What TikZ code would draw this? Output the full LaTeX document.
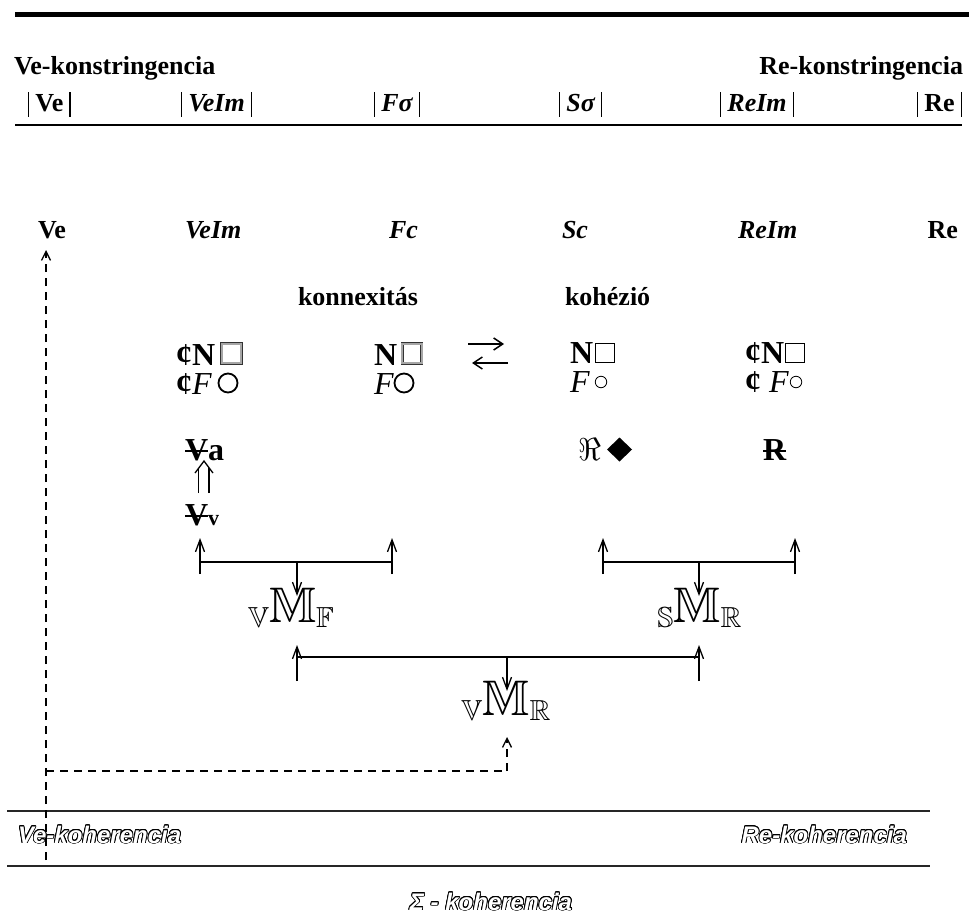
\documentclass[tikz,border=0pt]{standalone}
\usepackage{amssymb}
\usepackage{graphicx}
\usepackage{fontspec}
\setmainfont{Liberation Serif}
\newfontfamily\hollowfont{Liberation Sans}
\usetikzlibrary{arrows.meta,shapes.geometric,calc}

% a letter with a horizontal stroke through it
\newcommand\struck[1]{\setbox0\hbox{#1}\rlap{\rule[0.25em]{\wd0}{0.065em}}\box0}
% tall thin bar for the absolute-value row
\newcommand\absbar{\rule[-5pt]{1.4pt}{25pt}}
\newcommand\absval[1]{\absbar\hspace{6pt}#1\hspace{6pt}\absbar}
% double-struck M with lowered letters before and after it
\newcommand\dsM[2]{\raisebox{-5pt}{\fontsize{29}{29}\selectfont$\mathbb{#1}$}{\fontsize{50}{50}\selectfont$\mathbb{M}$}\raisebox{-5pt}{\fontsize{29}{29}\selectfont$\mathbb{#2}$}}
% hollow (outlined) text: name, position, anchor, text
\newcommand\hollowtext[4]{%
  \foreach \a in {0,22.5,...,337.5}
    \node[hollow, anchor=#3, text=black] at ($(#2)+(\a:0.8pt)$) {#4};
  \node[hollow, anchor=#3, text=white] (#1) at (#2) {#4};
}

\tikzset{
  every node/.style={inner sep=0pt, outer sep=0pt},
  big/.style={font=\fontsize{26}{30}\selectfont\bfseries},
  hdr/.style={font=\fontsize{26}{30}\selectfont\bfseries},
  colhead/.style={font=\fontsize{26}{30}\selectfont\bfseries},
  symtxt/.style={font=\fontsize{32}{36}\selectfont, anchor=base west, text height=22pt, text depth=2pt},
  heavybox/.style={rectangle, draw=black!80, double=black!35, double distance=2pt, line width=0.7pt, minimum size=19.5pt},
  heavyring/.style={circle, draw, line width=1.8pt, minimum size=19pt},
  thinbox/.style={rectangle, draw, line width=0.8pt, minimum size=19pt},
  thinring/.style={circle, draw, line width=0.8pt, minimum size=11.5pt},
  hollow/.style={font=\hollowfont\fontsize{24}{28}\selectfont\bfseries\itshape},
  bar/.style={line width=2pt},
  arr/.style={line width=1.3pt, -{Straight Barb[length=12pt,width=9pt]}},
  harr/.style={line width=1.5pt, -{Straight Barb[length=9pt,width=12pt]}},
  dsh/.style={line width=1.3pt, dash pattern=on 8pt off 6pt},
  dsharr/.style={dsh, -{Straight Barb[length=9pt,width=9pt]}},
}

\begin{document}
\begin{tikzpicture}[x=1pt,y=-1pt]
\useasboundingbox (0,0) rectangle (969,923);
\fill[white] (0,0) rectangle (969,923);

% horizontal rules
\draw[line width=5pt] (15,15) -- (969,15);
\draw[line width=1.5pt] (15,125) -- (962,125);
\draw[line width=2.5pt, black!85] (7,811) -- (930,811);
\draw[line width=2.5pt, black!85] (7,866) -- (930,866);

% constringency headings
\node[big, anchor=base west] (vek) at (14,75) {Ve-konstringencia};
\node[big, anchor=base east] (rek) at (963,75) {Re-konstringencia};

% absolute-value row
\node[hdr, anchor=base west] (h1) at (28,112) {\absval{Ve}};
\node[hdr, anchor=base west] (h2) at (181,112) {\absval{\itshape VeIm}};
\node[hdr, anchor=base west] (h3) at (374,112) {\absval{\itshape Fσ}};
\node[hdr, anchor=base west] (h4) at (559,112) {\absval{\itshape Sσ}};
\node[hdr, anchor=base west] (h5) at (720,112) {\absval{\itshape ReIm}};
\node[hdr, anchor=base east] (h6) at (962,112) {\absval{Re}};

% column heads
\node[colhead, anchor=base west] (ve) at (38,238) {Ve};
\node[colhead, anchor=base west] (veim) at (185,238) {\itshape VeIm};
\node[colhead, anchor=base east] (fc) at (418,238) {\itshape Fc};
\node[colhead, anchor=base west] (sc) at (562,238) {\itshape Sc};
\node[colhead, anchor=base west] (reim) at (738,238) {\itshape ReIm};
\node[colhead, anchor=base east] (re) at (958,238) {Re};

\node[colhead, anchor=base west] (konn) at (298,305) {konnexitás};
\node[colhead, anchor=base west] (koh) at (565,305) {kohézió};

% symbol rows
\node[symtxt] (n1) at (176,365) {\textbf{¢N}};
\node[heavybox] (q1) at (231.5,353.5) {};
\node[symtxt] (f1) at (176,394) {\textbf{¢}\textit{F}};
\node[heavyring] (o1) at (228,383) {};

\node[symtxt] (n2) at (374,365) {\textbf{N}};
\node[heavybox] (q2) at (412,353.5) {};
\node[symtxt] (f2) at (374,394) {\textit{F}};
\node[heavyring] (o2) at (404,383) {};

\node[symtxt] (n3) at (570,363) {\textbf{N}};
\node[thinbox] (q3) at (605,353) {};
\node[symtxt] (f3) at (570,392) {\textit{F}};
\node[thinring] (o3) at (601,382) {};

\node[symtxt] (n4) at (745,363) {\textbf{¢N}};
\node[thinbox] (q4) at (795,353) {};
\node[symtxt] (f4) at (745,392) {\textbf{¢} \textit{F}};
\node[thinring] (o4) at (796,382) {};

% two-way arrow between the two N columns
\coordinate (xa1) at (468,344); \coordinate (xa2) at (504,344);
\coordinate (xb1) at (508,363); \coordinate (xb2) at (472,363);
\draw[harr] (xa1) -- (xa2);
\draw[harr] (xb1) -- (xb2);

% struck letters
\node[symtxt] (va) at (185,460) {\textbf{\struck{V}a}};
\node[symtxt] (vv) at (185,525) {\textbf{\struck{V}}{\fontsize{22}{24}\selectfont\bfseries v}};
\node[symtxt] (rr) at (578,460) {\resizebox{!}{22pt}{$\Re$}};
\node[diamond, fill, minimum width=25pt, minimum height=24pt] (dm) at (619.5,449.5) {};
\node[symtxt] (rs) at (763,460) {\textbf{\struck{R}}};

% double arrow from Vv up to Va
\coordinate (dpl) at (198.5,493); \coordinate (dpr) at (209,493);
\coordinate (dhl) at (195,473); \coordinate (dh) at (204,461); \coordinate (dhr) at (213,473);
\draw[line width=1.3pt] (dpl) -- (198.5,468.3) (dpr) -- (209,467.7);
\draw[line width=1.3pt, line join=miter] (dhl) -- (dh) -- (dhr);

% merged meanings
\node[anchor=base] (mf) at (291,622) {\dsM{V}{F}};
\node[anchor=base] (mr) at (699.5,622) {\dsM{S}{R}};
\node[anchor=base] (mvr) at (506,715) {\dsM{V}{R}};

% first pair of brackets
\coordinate (b1l) at (200,562); \coordinate (b1r) at (392,562); \coordinate (b1m) at (297,562);
\coordinate (b2l) at (603,562); \coordinate (b2r) at (795,562); \coordinate (b2m) at (699,562);
\draw[bar] (b1l) -- (b1r);
\draw[bar] (b2l) -- (b2r);
\foreach \x in {200,392,603,795}
  \draw[arr] (\x,574) -- (\x,538);
\draw[arr] (b1m) -- (297,596);
\draw[arr] (b2m) -- (699,596);

% second bracket
\coordinate (b3l) at (297,657); \coordinate (b3r) at (699,657); \coordinate (b3m) at (507,657);
\draw[bar] (b3l) -- (b3r);
\draw[arr] (297,681) -- (297,645);
\draw[arr] (699,681) -- (699,645);
\draw[arr] (b3m) -- (507,691);

% coherence labels
\hollowtext{vekoh}{18,843}{base west}{Ve-koherencia}
\hollowtext{rekoh}{907,843}{base east}{Re-koherencia}
\hollowtext{sumkoh}{491,910}{base}{Σ - koherencia}

% dashed feedback path
\coordinate (dc) at (46,771); \coordinate (dtop) at (46,250); \coordinate (dbot) at (46,860);
\coordinate (dr) at (507,771); \coordinate (drtip) at (507,737);
\draw[dsharr] (dbot) -- (dtop);
\draw[dsh] (dc) -- (dr);
\draw[dsharr] (dr) -- (drtip);
\end{tikzpicture}
\end{document}
